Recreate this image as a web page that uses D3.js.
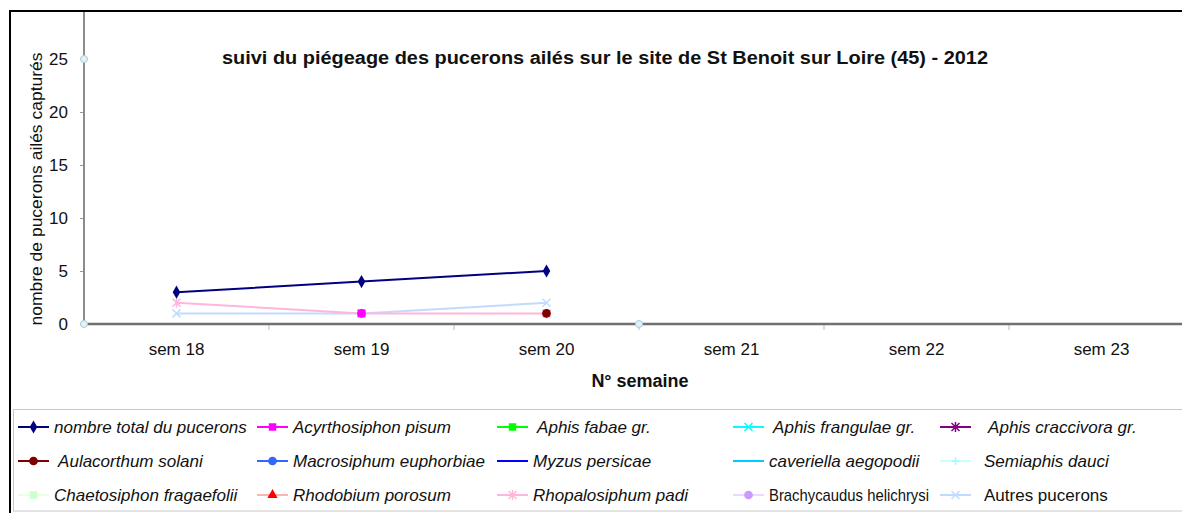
<!DOCTYPE html>
<html>
<head>
<meta charset="utf-8">
<script src="https://cdn.jsdelivr.net/npm/d3@7"></script>
<style>
  html, body { margin: 0; padding: 0; background: #fff; }
  svg { display: block; font-family: "Liberation Sans", Arial, sans-serif; }
</style>
</head>
<body>
<svg id="chart" width="1182" height="513"></svg>
<script>
(function(){
'use strict';

// --- data ---
const weeks = ['sem 18', 'sem 19', 'sem 20', 'sem 21', 'sem 22', 'sem 23'];
const yTicks = [0, 5, 10, 15, 20, 25];

const totalPucerons        = [3, 4, 5, null, null, null];
const acyrthosiphonPisum   = [null, 1, null, null, null, null];
const aphisFabae           = [null, null, null, null, null, null];
const aphisFrangulae       = [null, null, null, null, null, null];
const aphisCraccivora      = [null, null, null, null, null, null];
const aulacorthumSolani    = [null, null, 1, null, null, null];
const macrosiphumEuphorbiae= [null, 1, null, null, null, null];
const myzusPersicae        = [null, null, null, null, null, null];
const cavariellaAegopodii  = [null, null, null, null, null, null];
const semiaphisDauci       = [null, null, null, null, null, null];
const chaetosiphon         = [null, null, null, null, null, null];
const rhodobiumPorosum     = [null, null, null, null, null, null];
const rhopalosiphumPadi    = [2, 1, 1, null, null, null];
const brachycaudus         = [null, null, null, null, null, null];
const autresPucerons       = [1, 1, 2, null, null, null];

// stray points (band index position, value) visible on the axes
const strayPos = [-0.5, -0.5, 2.5];
const strayVal = [25, 0, 0];

const series = [
    {name: 'nombre total du pucerons', values: totalPucerons, line: '#000080', fill: '#000080', marker: 'diamond', italic: true},
    {name: 'Acyrthosiphon pisum', values: acyrthosiphonPisum, line: '#ff00ff', fill: '#ff00ff', marker: 'square', italic: true},
    {name: ' Aphis fabae gr.', values: aphisFabae, line: '#00ff00', fill: '#00ff00', marker: 'square', italic: true},
    {name: ' Aphis frangulae gr.', values: aphisFrangulae, line: '#00ffff', fill: '#00ffff', marker: 'x', italic: true},
    {name: ' Aphis craccivora gr.', values: aphisCraccivora, line: '#800080', fill: '#800080', marker: 'star', italic: true},
    {name: ' Aulacorthum solani', values: aulacorthumSolani, line: '#800000', fill: '#800000', marker: 'circle', italic: true},
    {name: 'Macrosiphum euphorbiae', values: macrosiphumEuphorbiae, line: '#3366ff', fill: '#3366ff', marker: 'circle', italic: true},
    {name: 'Myzus persicae', values: myzusPersicae, line: '#0000ff', fill: '#0000ff', marker: 'none', italic: true},
    {name: 'caveriella aegopodii', values: cavariellaAegopodii, line: '#00ccff', fill: '#00ccff', marker: 'none', italic: true},
    {name: 'Semiaphis dauci', values: semiaphisDauci, line: '#ccffff', fill: '#99ffff', marker: 'plus', italic: true},
    {name: 'Chaetosiphon fragaefolii', values: chaetosiphon, line: '#e6ffe6', fill: '#ccffcc', marker: 'square', italic: true},
    {name: 'Rhodobium porosum', values: rhodobiumPorosum, line: '#ffb3b3', fill: '#ff0000', marker: 'triangle', italic: true},
    {name: 'Rhopalosiphum padi', values: rhopalosiphumPadi, line: '#ffb6dc', fill: '#ffb6dc', marker: 'star', italic: true},
    {name: 'Brachycaudus helichrysi', values: brachycaudus, line: '#ead9ff', fill: '#cc99ff', marker: 'circle', italic: false, fit: 160},
    {name: 'Autres pucerons', values: autresPucerons, line: '#bfdcff', fill: '#bfdcff', marker: 'x', italic: false}
];

const svg = d3.select('#chart');

// frame
svg.append('line').attr('x1', 9).attr('x2', 1182).attr('y1', 11).attr('y2', 11)
    .attr('stroke', '#000').attr('stroke-width', 2);
svg.append('line').attr('x1', 10).attr('x2', 10).attr('y1', 10).attr('y2', 513)
    .attr('stroke', '#000').attr('stroke-width', 2);

var x = d3.scaleBand().domain(weeks).range([84, 1194]).padding(0),
    xPos = d3.scaleLinear().domain([-0.5, weeks.length - 0.5]).range([84, 1194]),
    y = d3.scaleLinear().domain([0, 25]).range([324, 59]);

// axes
var yAxis = svg.append('g').attr('transform', 'translate(84,0)')
    .call(d3.axisLeft(y).tickValues(yTicks).tickSize(4).tickPadding(12));
yAxis.select('.domain').remove();
yAxis.selectAll('.tick line').attr('stroke', '#999');
yAxis.selectAll('.tick text').attr('font-size', 17).attr('fill', '#111')
    .attr('font-family', '"Liberation Sans", Arial, sans-serif');
svg.append('line').attr('x1', 84).attr('x2', 84).attr('y1', 12).attr('y2', 325)
    .attr('stroke', '#8c8c8c').attr('stroke-width', 2);

var xAxis = svg.append('g').attr('transform', 'translate(0,324)')
    .call(d3.axisBottom(x).tickSize(0).tickPadding(19));
xAxis.select('.domain').remove();
xAxis.selectAll('.tick text').attr('font-size', 17).attr('fill', '#111')
    .attr('font-family', '"Liberation Sans", Arial, sans-serif');
svg.append('g').selectAll('line').data(weeks.slice(1)).enter().append('line')
    .attr('x1', function(d) { return x(d); }).attr('x2', function(d) { return x(d); })
    .attr('y1', 324).attr('y2', 330).attr('stroke', '#bbb');
svg.append('line').attr('x1', 83).attr('x2', 1182).attr('y1', 324).attr('y2', 324)
    .attr('stroke', '#707070').attr('stroke-width', 2.5);

// titles
svg.append('text').attr('x', 605).attr('y', 64).attr('text-anchor', 'middle')
    .attr('font-size', 18).attr('font-weight', 'bold').attr('fill', '#111')
    .attr('textLength', 766).attr('lengthAdjust', 'spacingAndGlyphs')
    .text('suivi du piégeage des pucerons ailés sur le site de St Benoit sur Loire (45) - 2012');
svg.append('text').attr('x', 640).attr('y', 387).attr('text-anchor', 'middle')
    .attr('font-size', 18).attr('font-weight', 'bold').attr('fill', '#111')
    .text('N° semaine');
svg.append('text').attr('transform', 'translate(42,189) rotate(-90)').attr('text-anchor', 'middle')
    .attr('font-size', 17).attr('fill', '#111')
    .attr('textLength', 273).attr('lengthAdjust', 'spacingAndGlyphs')
    .text('nombre de pucerons ailés capturés');

// markers
function markerPath(type) {
    switch (type) {
        case 'diamond': return d3.symbol().type(d3.symbolDiamond).size(50)();
        case 'square': return d3.symbol().type(d3.symbolSquare).size(56)();
        case 'circle': return d3.symbol().type(d3.symbolCircle).size(60)();
        case 'triangle': return d3.symbol().type(d3.symbolTriangle).size(45)();
        case 'x': return 'M-4,-4L4,4M-4,4L4,-4';
        case 'plus': return 'M-4,0L4,0M0,-4L0,4';
        case 'star': return 'M-4,-4L4,4M-4,4L4,-4M0,-5L0,5';
        default: return null;
    }
}
function drawMarker(sel, s) {
    var p = markerPath(s.marker);
    if (!p) return;
    var stroked = s.marker === 'x' || s.marker === 'plus' || s.marker === 'star';
    sel.append('path').attr('d', p)
        .attr('fill', stroked ? 'none' : s.fill)
        .attr('stroke', stroked ? s.fill : 'none')
        .attr('stroke-width', 1.5);
}

// lines
var line = d3.line()
    .defined(function(d) { return d != null; })
    .x(function(d, i) { return x(weeks[i]) + x.bandwidth() / 2; })
    .y(function(d) { return y(d); });

var plot = svg.append('g');
series.slice().reverse().forEach(function(s) {
    plot.append('path').datum(s.values).attr('d', line)
        .attr('fill', 'none').attr('stroke', s.line).attr('stroke-width', 2);
});
series.slice().reverse().forEach(function(s) {
    s.values.forEach(function(v, i) {
        if (v == null) return;
        var g = plot.append('g').attr('transform',
            'translate(' + (x(weeks[i]) + x.bandwidth() / 2) + ',' + y(v) + ')');
        drawMarker(g, s);
    });
});

// stray points on axes
svg.append('g').selectAll('circle').data(strayPos).enter().append('circle')
    .attr('cx', function(d) { return xPos(d); })
    .attr('cy', function(d, i) { return y(strayVal[i]); })
    .attr('r', 3.5).attr('fill', '#dff3f8').attr('stroke', '#a9cbd8').attr('stroke-width', 1);

// legend
svg.append('rect').attr('x', 13.5).attr('y', 409.5).attr('width', 1180).attr('height', 101.5)
    .attr('fill', 'none').attr('stroke', '#c8c8c8').attr('stroke-width', 1);

var colX = [18, 257, 497, 733, 940],
    textDx = [36, 36, 36, 36, 44],
    rowY = [427, 461, 495];

var items = svg.append('g').selectAll('g').data(series).enter().append('g')
    .attr('transform', function(d, i) {
        return 'translate(' + colX[i % 5] + ',' + rowY[Math.floor(i / 5)] + ')';
    });
items.append('line').attr('x1', 0).attr('x2', 31).attr('y1', 0).attr('y2', 0)
    .attr('stroke', function(d) { return d.line; }).attr('stroke-width', 2);
items.each(function(d) {
    var g = d3.select(this).append('g').attr('transform', 'translate(15.5,0)');
    drawMarker(g, d);
});
items.append('text').attr('x', function(d, i) { return textDx[i % 5]; }).attr('y', 6)
    .attr('font-size', 17).attr('fill', '#111')
    .attr('font-style', function(d) { return d.italic ? 'italic' : 'normal'; })
    .attr('textLength', function(d) { return d.fit || null; })
    .attr('lengthAdjust', 'spacingAndGlyphs')
    .style('white-space', 'pre')
    .text(function(d) { return d.name; });

})();
</script>
</body>
</html>
